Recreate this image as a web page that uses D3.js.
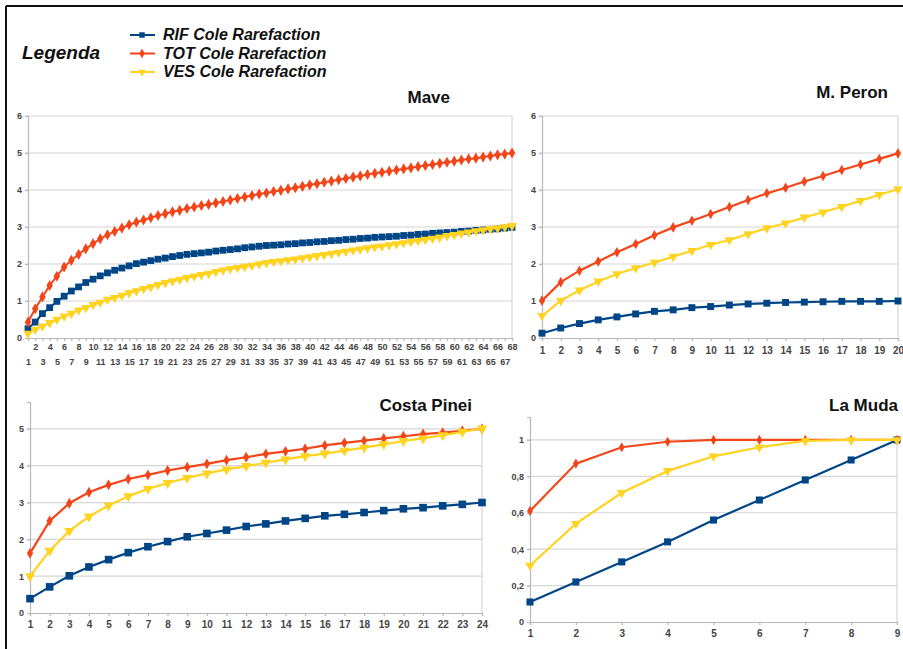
<!DOCTYPE html>
<html>
<head>
<meta charset="utf-8">
<script src="https://cdn.jsdelivr.net/npm/d3@7"></script>
<style>
  body { margin: 0; background: #fff; }
  svg { display: block; }
</style>
</head>
<body>
<div id="chart-area"></div>
<script>
// Categories (sample size steps)
var maveCats = d3.range(1, 69);
var peronCats = d3.range(1, 21);
var costaCats = d3.range(1, 25);
var mudaCats = d3.range(1, 10);

// Mave
var maveRIF = [0.25,0.43,0.66,0.82,0.99,1.13,1.27,1.38,1.50,1.59,1.68,1.76,1.83,1.89,1.95,2.01,2.05,2.09,2.13,2.16,
    2.20,2.23,2.26,2.28,2.30,2.32,2.35,2.37,2.39,2.41,2.44,2.46,2.48,2.50,2.51,2.52,2.54,2.55,2.57,2.58,
    2.60,2.61,2.63,2.64,2.66,2.67,2.69,2.70,2.72,2.73,2.74,2.75,2.77,2.78,2.80,2.81,2.83,2.84,2.85,2.86,
    2.88,2.89,2.91,2.92,2.94,2.95,2.97,2.99];
var maveTOT = [0.43,0.79,1.11,1.42,1.67,1.92,2.10,2.26,2.41,2.55,2.68,2.79,2.88,2.97,3.06,3.13,3.19,3.25,3.31,3.36,
    3.41,3.45,3.50,3.54,3.58,3.61,3.65,3.69,3.73,3.77,3.81,3.85,3.89,3.92,3.96,3.99,4.03,4.06,4.10,4.14,
    4.17,4.21,4.24,4.28,4.31,4.35,4.38,4.42,4.45,4.48,4.51,4.54,4.57,4.60,4.63,4.66,4.69,4.72,4.75,4.78,
    4.81,4.84,4.86,4.89,4.92,4.95,4.97,5.00];
var maveVES = [0.12,0.23,0.32,0.41,0.50,0.59,0.66,0.75,0.82,0.90,0.96,1.04,1.09,1.15,1.22,1.27,1.33,1.38,1.44,1.49,
    1.54,1.58,1.63,1.67,1.71,1.74,1.79,1.83,1.87,1.90,1.93,1.96,2.00,2.03,2.06,2.08,2.11,2.13,2.16,2.19,
    2.22,2.25,2.28,2.31,2.34,2.37,2.40,2.43,2.46,2.48,2.51,2.54,2.57,2.60,2.63,2.66,2.69,2.72,2.76,2.79,
    2.83,2.86,2.89,2.92,2.95,2.97,3.00,3.03];

// M. Peron
var peronRIF = [0.13,0.27,0.39,0.49,0.57,0.65,0.72,0.76,0.82,0.85,0.89,0.92,0.94,0.96,0.97,0.98,0.99,0.99,0.99,1.00];
var peronTOT = [1.01,1.51,1.82,2.07,2.32,2.54,2.78,2.99,3.17,3.35,3.54,3.73,3.91,4.06,4.23,4.38,4.54,4.69,4.84,4.99];
var peronVES = [0.60,1.01,1.29,1.53,1.73,1.89,2.04,2.20,2.36,2.52,2.65,2.81,2.97,3.10,3.26,3.40,3.55,3.71,3.87,4.02];

// Costa Pinei
var costaRIF = [0.39,0.71,1.01,1.25,1.45,1.64,1.80,1.94,2.07,2.16,2.25,2.35,2.42,2.50,2.57,2.64,2.68,2.73,2.78,2.83,2.86,2.91,2.95,3.00];
var costaTOT = [1.62,2.50,2.98,3.28,3.48,3.64,3.75,3.87,3.96,4.05,4.15,4.23,4.32,4.39,4.46,4.55,4.62,4.68,4.74,4.80,4.86,4.90,4.95,5.00];
var costaVES = [1.00,1.69,2.23,2.62,2.92,3.17,3.37,3.53,3.67,3.79,3.90,3.99,4.08,4.17,4.26,4.33,4.41,4.49,4.58,4.67,4.74,4.83,4.92,5.01];

// La Muda
var mudaRIF = [0.11,0.22,0.33,0.44,0.56,0.67,0.78,0.89,1.00];
var mudaTOT = [0.61,0.87,0.96,0.99,1.00,1.00,1.00,1.00,1.00];
var mudaVES = [0.31,0.54,0.71,0.83,0.91,0.96,0.995,1.00,1.00];

// Tick labels
var ticks6 = [0, 1, 2, 3, 4, 5, 6];
var ticks5 = [0, 1, 2, 3, 4, 5];
var ticks1 = [0, 0.2, 0.4, 0.6, 0.8, 1];

var legendLabels = ["RIF Cole Rarefaction", "TOT Cole Rarefaction", "VES Cole Rarefaction"];

var colors = ["#004586", "#f2461a", "#ffd320"];
var symbols = [d3.symbolSquare, d3.symbolDiamond, d3.symbolTriangle];
var symRot = [0, 0, 180];

var svg = d3.select("#chart-area")
    .append("svg")
        .attr("width", 903)
        .attr("height", 649);

// page frame
svg.append("line").attr("x1", 6).attr("x2", 903).attr("y1", 6).attr("y2", 6)
    .attr("stroke", "#111").attr("stroke-width", 2);
svg.append("line").attr("x1", 6).attr("x2", 6).attr("y1", 6).attr("y2", 649)
    .attr("stroke", "#111").attr("stroke-width", 2);

// Legend
svg.append("text")
    .attr("x", 22).attr("y", 59)
    .attr("font-family", "Liberation Sans, Arial, sans-serif")
    .attr("font-size", "19px")
    .attr("font-weight", "bold")
    .attr("font-style", "italic")
    .attr("fill", "#111")
    .text("Legenda");

legendLabels.forEach(function(label, i) {
    var ly = 35 + i * 18.5;
    svg.append("line")
        .attr("x1", 130).attr("x2", 155).attr("y1", ly).attr("y2", ly)
        .attr("stroke", colors[i]).attr("stroke-width", 2);
    svg.append("path")
        .attr("d", d3.symbol().type(symbols[i]).size(i == 0 ? 30 : 26)())
        .attr("transform", "translate(142," + ly + ") rotate(" + symRot[i] + ")")
        .attr("fill", colors[i]);
    svg.append("text")
        .attr("x", 163).attr("y", ly + 5)
        .attr("font-family", "Liberation Sans, Arial, sans-serif")
        .attr("font-size", "16px")
        .attr("font-weight", "bold")
        .attr("font-style", "italic")
        .attr("fill", "#111")
        .text(label);
});

function drawPanel(p) {
    var g = svg.append("g");

    var x = d3.scalePoint()
        .domain(p.cats)
        .range([p.left, p.right])
        .padding(0);

    var y = d3.scaleLinear()
        .domain([0, p.yMax])
        .range([p.bottom, p.top]);

    // grid
    g.selectAll(".grid")
        .data(p.yTicks.filter(function(d) { return d > 0; }))
        .enter().append("line")
            .attr("x1", p.left - 3).attr("x2", p.right)
            .attr("y1", function(d) { return y(d); })
            .attr("y2", function(d) { return y(d); })
            .attr("stroke", "#d6d6d6")
            .attr("stroke-width", 1.2);

    // right frame
    g.append("line")
        .attr("x1", p.right).attr("x2", p.right)
        .attr("y1", p.frameTop ? p.top : y(p.yTicks[p.yTicks.length - 1])).attr("y2", p.bottom)
        .attr("stroke", "#d6d6d6").attr("stroke-width", 1.2);

    // Y Axis
    var yAxisCall = d3.axisLeft(y)
        .tickValues(p.yTicks)
        .tickSize(3)
        .tickPadding(3)
        .tickFormat(p.yFormat || d3.format("d"));
    var yAxisGroup = g.append("g")
        .attr("transform", "translate(" + p.left + ",0)")
        .call(yAxisCall);
    yAxisGroup.selectAll("text")
        .attr("font-family", "Liberation Sans, Arial, sans-serif")
        .attr("font-size", "9px")
        .attr("font-weight", "bold")
        .attr("fill", "#444");

    // X Axis
    var xAxisCall = d3.axisBottom(x)
        .tickSize(3)
        .tickPadding(p.xPad);
    var xAxisGroup = g.append("g")
        .attr("transform", "translate(0," + p.bottom + ")")
        .call(xAxisCall);
    xAxisGroup.selectAll("text")
        .attr("font-family", p.xFont || "Liberation Sans, Arial, sans-serif")
        .attr("font-size", p.xFontSize || "10px")
        .attr("font-weight", "bold")
        .attr("fill", "#444");
    if (p.twoRows) {
        xAxisGroup.selectAll("text")
            .attr("y", function(d) { return d % 2 == 0 ? 6 : 21; });
    }

    g.selectAll(".domain, .tick line")
        .attr("stroke", "#b8b8b8")
        .attr("stroke-width", 1.2);

    // Lines and markers
    var line = d3.line()
        .x(function(d, k) { return x(p.cats[k]); })
        .y(function(d) { return y(d); });

    p.series.forEach(function(s, i) {
        g.append("path")
            .datum(s)
            .attr("fill", "none")
            .attr("stroke", colors[i])
            .attr("stroke-width", p.lineWidth)
            .attr("d", line);

        var sym = d3.symbol().type(symbols[i]).size(p.markSize[i]);
        g.selectAll(".m" + i)
            .data(s)
            .enter().append("path")
                .attr("class", "m" + i)
                .attr("d", sym)
                .attr("transform", function(d, k) {
                    return "translate(" + x(p.cats[k]) + "," + y(d) + ") rotate(" + symRot[i] + ")";
                })
                .attr("fill", colors[i]);
    });

    // Title
    g.append("text")
        .attr("x", p.titleX)
        .attr("y", p.titleY)
        .attr("text-anchor", "end")
        .attr("font-family", "Liberation Sans, Arial, sans-serif")
        .attr("font-size", "17px")
        .attr("font-weight", "bold")
        .attr("fill", "#111")
        .text(p.title);
}

drawPanel({
    title: "Mave", titleX: 450, titleY: 103,
    cats: maveCats, series: [maveRIF, maveTOT, maveVES],
    left: 28, right: 512, top: 116, bottom: 338, yMax: 6, yTicks: ticks6, frameTop: true,
    xPad: 3, twoRows: true, xFont: "Liberation Sans Narrow, Arial Narrow, sans-serif", xFontSize: "9px",
    lineWidth: 2, markSize: [46, 36, 40]
});

drawPanel({
    title: "M. Peron", titleX: 888, titleY: 98,
    cats: peronCats, series: [peronRIF, peronTOT, peronVES],
    left: 542, right: 898, top: 116, bottom: 338, yMax: 6, yTicks: ticks6, frameTop: true,
    xPad: 6, lineWidth: 2.2, markSize: [48, 32, 40]
});

drawPanel({
    title: "Costa Pinei", titleX: 472, titleY: 411,
    cats: costaCats, series: [costaRIF, costaTOT, costaVES],
    left: 30, right: 482, top: 402, bottom: 613, yMax: 5.73, yTicks: ticks5, frameTop: false,
    xPad: 5, lineWidth: 2.2, markSize: [58, 34, 46]
});

drawPanel({
    title: "La Muda", titleX: 898, titleY: 411,
    cats: mudaCats, series: [mudaRIF, mudaTOT, mudaVES],
    left: 530, right: 897, top: 417, bottom: 622, yMax: 1.126, yTicks: ticks1, frameTop: false,
    yFormat: function(d) { return d3.format("~g")(d).replace(".", ","); },
    xPad: 5, lineWidth: 2.2, markSize: [50, 30, 40]
});
</script>
</body>
</html>
